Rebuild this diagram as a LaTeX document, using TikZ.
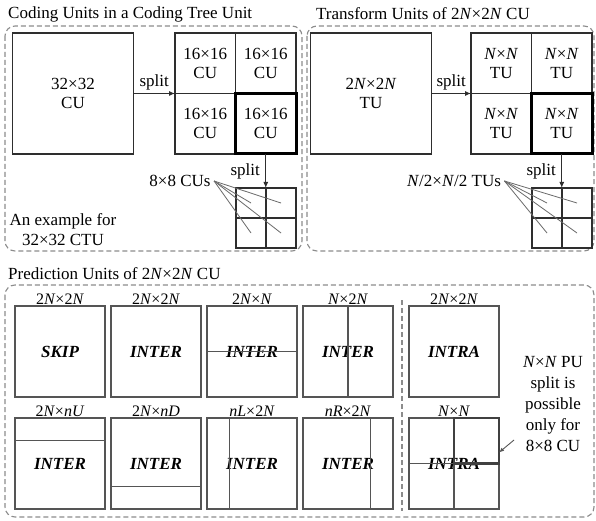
\documentclass[tikz,border=0pt]{standalone}
\usepackage{fontspec}
\setmainfont{Liberation Serif}
\usetikzlibrary{arrows.meta,positioning,calc}
\definecolor{UnitLine}{HTML}{2E2E2E}
\definecolor{PuLine}{HTML}{555555}
\definecolor{FrameLine}{HTML}{8C8C8C}
\definecolor{HintLine}{HTML}{6A6A6A}

\begin{document}
\begin{tikzpicture}[x=1pt,y=-1pt,node distance=6pt,font=\fontsize{17}{19}\selectfont]
    \tikzset{unit/.style={draw=UnitLine,line width=1.5pt,minimum size=60.5pt,inner sep=0pt,outer sep=0pt,align=center},
      big/.style={unit,minimum size=121pt},
      tiny/.style={unit,minimum size=30pt,line width=1.3pt},
      hot/.style={draw=black,line width=3pt},
      pu/.style={draw=PuLine,line width=1.5pt,minimum width=90pt,minimum height=91pt,inner sep=0pt,outer sep=0pt,font=\fontsize{17}{19}\selectfont\bfseries\itshape},
      cut/.style={draw=PuLine,line width=1.3pt},
      tag/.style={inner sep=1pt,font=\fontsize{16}{18}\selectfont},
      panel/.style={draw=FrameLine,dash pattern=on 5pt off 3pt,rounded corners=10pt,line width=1.1pt},
      arr/.style={-{Latex[length=6pt,width=5pt]},line width=1.1pt,draw=UnitLine},
      hint/.style={draw=HintLine,line width=0.8pt}}
    \fill[white] (0,0) rectangle (596,521);
    \useasboundingbox (0,0) rectangle (596,521);
    \draw[panel] (5,26) rectangle (302,251);
    \draw[panel] (307,26) rectangle (594,251);
    \draw[panel] (5,285) rectangle (594,517);
    \draw[panel] (402,300) -- (402,511);
    \node[anchor=west,inner sep=2pt] (ttlcu) at (6,14) {Coding Units in a Coding Tree Unit};
    \node[anchor=west,inner sep=2pt] (ttltu) at (314,14) {Transform Units of 2\textit{N}×2\textit{N} CU};
    \node[anchor=west,inner sep=2pt] (ttlpu) at (6,274) {Prediction Units of 2\textit{N}×2\textit{N} CU};
    % coding units
    \node[big] (cu) at (73,93.5) {32×32\\CU};
    \node[unit] (q1) at (205.25,63.25) {16×16\\CU};
    \node[unit,right=0pt of q1] (q2) {16×16\\CU};
    \node[unit,below=0pt of q1] (q3) {16×16\\CU};
    \node[unit,hot,right=0pt of q3] (q4) {16×16\\CU};
    \draw[arr] (cu.east) -- (q1.south west) node[midway,above=-1pt] {split};
    \node[tiny] (s1) at (251,203) {};
    \node[tiny,right=0pt of s1] (s2) {};
    \node[tiny,below=0pt of s1] (s3) {};
    \node[tiny,right=0pt of s3] (s4) {};
    \draw[arr] (q4.south) -- (q4.south |- s2.north west) node[midway,left=2pt] {split};
    \node (cus) at (180,181) {8×8 CUs};
    \foreach \s in {s1,s2,s3,s4} \draw[hint] (cus.east) -- (\s.center);
    \node[align=center,font=\fontsize{17}{20}\selectfont] (ex) at (63,230) {An example for\\32×32 CTU};
    % transform units
    \node[big] (tu) at (371,93.5) {2\textit{N}×2\textit{N}\\TU};
    \node[unit] (t1) at (501.25,63.25) {\textit{N}×\textit{N}\\TU};
    \node[unit,right=0pt of t1] (t2) {\textit{N}×\textit{N}\\TU};
    \node[unit,below=0pt of t1] (t3) {\textit{N}×\textit{N}\\TU};
    \node[unit,hot,right=0pt of t3] (t4) {\textit{N}×\textit{N}\\TU};
    \draw[arr] (tu.east) -- (t1.south west) node[midway,above=-1pt] {split};
    \node[tiny] (u1) at (547,203) {};
    \node[tiny,right=0pt of u1] (u2) {};
    \node[tiny,below=0pt of u1] (u3) {};
    \node[tiny,right=0pt of u3] (u4) {};
    \draw[arr] (t4.south) -- (t4.south |- u2.north west) node[midway,left=2pt] {split};
    \node (tus) at (454,181) {\textit{N}/2×\textit{N}/2 TUs};
    \foreach \s in {u1,u2,u3,u4} \draw[hint] (tus.east) -- (\s.center);
    % prediction units
    \node[pu] (p1) at (60,351.5) {SKIP};
    \node[pu,right=of p1] (p2) {INTER};
    \node[pu,right=of p2] (p3) {INTER};
    \node[pu,right=of p3] (p4) {INTER};
    \node[pu,right=16pt of p4] (p5) {INTRA};
    \node[pu,below=21pt of p1] (p6) {INTER};
    \node[pu,right=of p6] (p7) {INTER};
    \node[pu,right=of p7] (p8) {INTER};
    \node[pu,right=of p8] (p9) {INTER};
    \node[pu,below=21pt of p5] (p10) {INTRA};
    \node[tag,above=0pt of p1] (l1) {2\textit{N}×2\textit{N}};
    \node[tag,above=0pt of p2] (l2) {2\textit{N}×2\textit{N}};
    \node[tag,above=0pt of p3] (l3) {2\textit{N}×\textit{N}};
    \node[tag,above=0pt of p4] (l4) {\textit{N}×2\textit{N}};
    \node[tag,above=0pt of p5] (l5) {2\textit{N}×2\textit{N}};
    \node[tag,above=0pt of p6] (l6) {2\textit{N}×\textit{nU}};
    \node[tag,above=0pt of p7] (l7) {2\textit{N}×\textit{nD}};
    \node[tag,above=0pt of p8] (l8) {\textit{nL}×2\textit{N}};
    \node[tag,above=0pt of p9] (l9) {\textit{nR}×2\textit{N}};
    \node[tag,above=0pt of p10] (l10) {\textit{N}×\textit{N}};
    \draw[cut] (p3.west) -- (p3.east);
    \draw[cut] (p4.north) -- (p4.south);
    \draw[cut] ($(p6.north west)!0.25!(p6.south west)$) -- ($(p6.north east)!0.25!(p6.south east)$);
    \draw[cut] ($(p7.north west)!0.75!(p7.south west)$) -- ($(p7.north east)!0.75!(p7.south east)$);
    \draw[cut] ($(p8.north west)!0.25!(p8.north east)$) -- ($(p8.south west)!0.25!(p8.south east)$);
    \draw[cut] ($(p9.north west)!0.75!(p9.north east)$) -- ($(p9.south west)!0.75!(p9.south east)$);
    \draw[cut] (p10.north) -- (p10.south);
    \draw[cut] (p10.west) -- (p10.east);
    \draw[cut,line width=2.6pt,draw=black!75] (p10.north) rectangle (p10.east);
    \node[align=center,font=\fontsize{17}{21}\selectfont] (note) at (553,404) {\textit{N}×\textit{N} PU\\split is\\possible\\only for\\8×8 CU};
    \coordinate (ptr) at (514,440);
    \draw[-{Latex[length=5pt,width=4pt]},line width=0.9pt,draw=PuLine] (ptr) -- ($(p10.east)+(0,-11)$);
  \end{tikzpicture}
\end{document}
